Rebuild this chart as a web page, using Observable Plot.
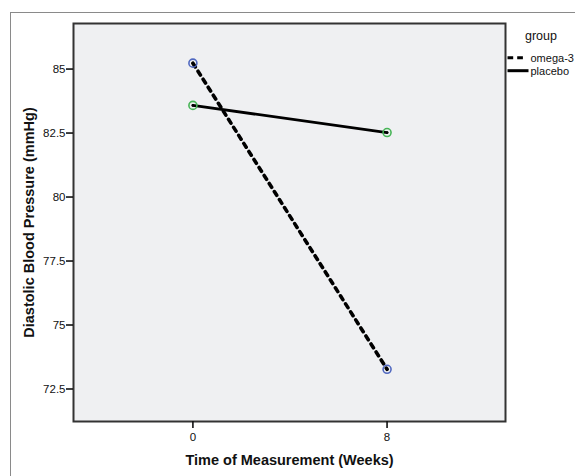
<!DOCTYPE html>
<html>
<head>
<meta charset="utf-8">
<script src="https://cdn.jsdelivr.net/npm/d3@7"></script>
<script src="https://cdn.jsdelivr.net/npm/@observablehq/plot@0.6"></script>
<style>
  html, body { margin: 0; padding: 0; background: #fff; }
  #wrap { position: relative; width: 575px; height: 476px; overflow: hidden; }
  #outer { position: absolute; left: 10px; top: 12px; width: 620px; height: 520px; border: 1.5px solid #8a8a8a; box-sizing: border-box; }
  #chart { position: absolute; left: 0; top: 0; }
</style>
</head>
<body>
<div id="wrap"><div id="outer"></div><div id="chart"></div></div>
<script>
const weeks = [0, 8];
const groups = ["omega-3", "placebo"];
const omega3 = [85.23, 73.27];
const placebo = [83.58, 82.52];
const yTicks = [72.5, 75, 77.5, 80, 82.5, 85];
const xTicks = [0, 8];
const pointColors = ["#5068c0", "#45b455"];
const dashes = ["4.5,5", null];

const series = [omega3, placebo];
const data = groups.flatMap((g, gi) => weeks.map((w, i) => ({group: g, week: w, dbp: series[gi][i]})));

const W = 575, H = 476;
const chart = Plot.plot({
  width: W, height: H,
  marginLeft: 73, marginTop: 23, marginRight: 70, marginBottom: 55,
  style: {fontFamily: "'Liberation Sans', Arial, sans-serif", fontSize: "11px", background: "transparent", color: "#111"},
  x: {domain: [-4.92, 12.88]},
  y: {domain: [71.23, 86.78]},
  marks: [
    Plot.frame({fill: "#eff0f2", stroke: null}),
    Plot.line(data.filter(d => d.group === groups[0]), {x: "week", y: "dbp", stroke: "#000", strokeWidth: 3.6, strokeDasharray: dashes[0]}),
    Plot.line(data.filter(d => d.group === groups[1]), {x: "week", y: "dbp", stroke: "#000", strokeWidth: 2.8}),
    Plot.dot(data, {x: "week", y: "dbp", r: 4, fill: "none", strokeWidth: 1.6, stroke: d => pointColors[groups.indexOf(d.group)]}),
    Plot.dot(data, {x: "week", y: "dbp", r: 1.3, fill: "#000"}),
    Plot.frame({stroke: "#333", strokeWidth: 2}),
    Plot.axisY(yTicks, {tickSize: 7, tickPadding: 1, strokeWidth: 1.6, label: null, tickFormat: d => String(d), fontSize: 11.5}),
    Plot.axisX(xTicks, {tickSize: 7, tickPadding: 4, strokeWidth: 1.6, label: null, tickFormat: d => String(d), fontSize: 11.5}),
    Plot.text(["Time of Measurement (Weeks)"], {frameAnchor: "bottom", dy: 43, fontWeight: "bold", fontSize: 14.5}),
    Plot.text(["Diastolic Blood Pressure (mmHg)"], {frameAnchor: "left", dx: -44, rotate: -90, textAnchor: "middle", fontWeight: "bold", fontSize: 14.5})
  ]
});
document.getElementById("chart").appendChild(chart);

// legend
const svg = d3.select(chart);
const lg = svg.append("g").attr("font-family", "'Liberation Sans', Arial, sans-serif").attr("fill", "#111").attr("text-anchor", "start");
lg.append("text").attr("x", 541).attr("y", 40).attr("text-anchor", "middle").attr("font-size", 12.5).text("group");
groups.forEach((g, i) => {
  const y = 57.7 + i * 13;
  lg.append("line").attr("x1", 507.5).attr("x2", dashes[i] ? 523 : 528.5).attr("y1", y).attr("y2", y)
    .attr("stroke", "#000").attr("stroke-width", 3).attr("stroke-dasharray", dashes[i] ? "5.7,4" : null);
  lg.append("text").attr("x", 530.5).attr("y", y).attr("dy", "0.35em").attr("text-anchor", "start").attr("font-size", 11).text(g);
});
</script>
</body>
</html>
